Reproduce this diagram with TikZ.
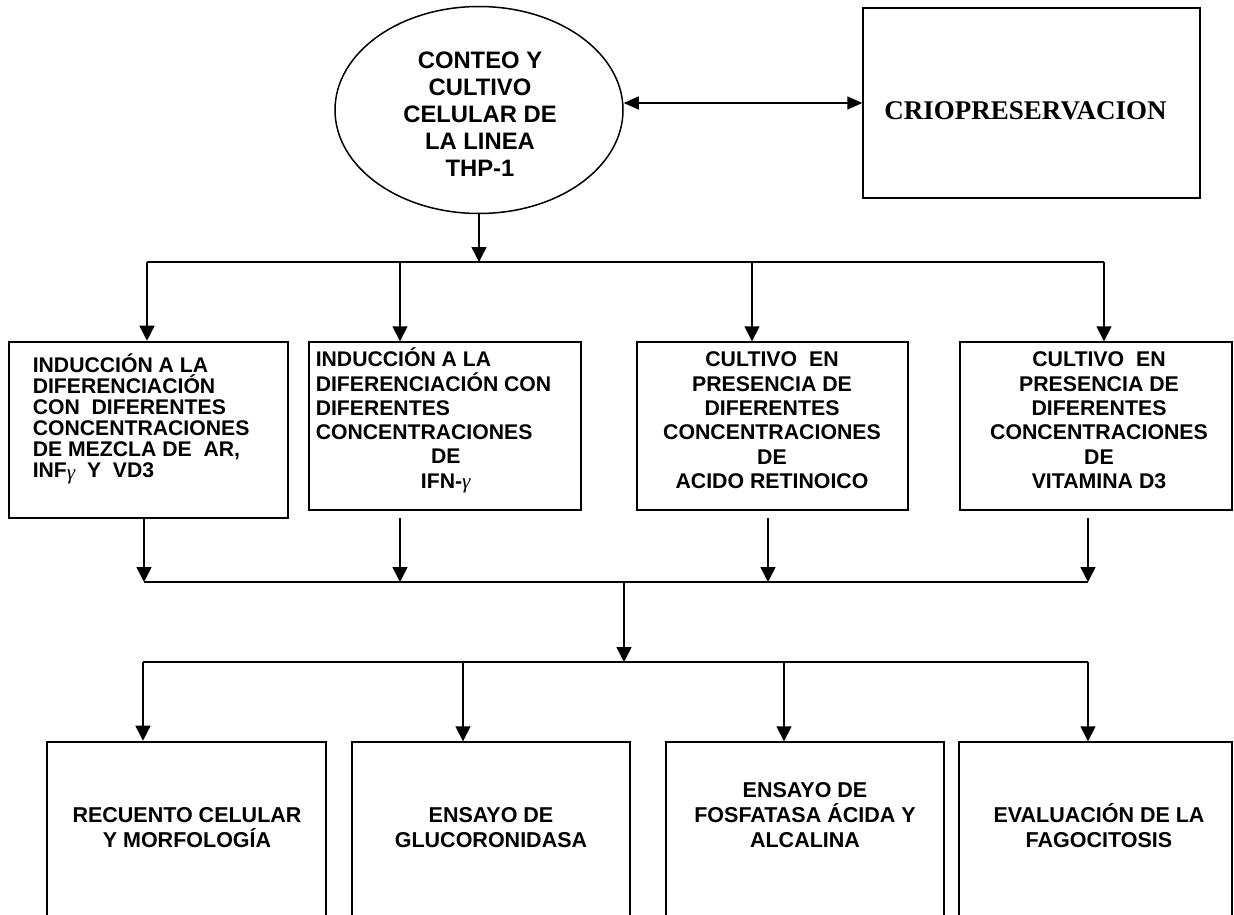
\documentclass[tikz,border=0pt]{standalone}
\usepackage{fontspec}
\setmainfont{Liberation Sans}
\newfontfamily\serifb{Liberation Serif}
\newfontfamily\gfont{Liberation Serif}
\usetikzlibrary{arrows.meta,shapes.geometric}
\newcommand{\gam}{{\gfont\itshape\mdseries γ}}
\begin{document}
\begin{tikzpicture}[x=1pt,y=-1pt,line width=1.5pt,
  arr/.style={-{Triangle[length=15pt,width=15pt]}},
  dbl/.style={{Triangle[length=15pt,width=13pt]}-{Triangle[length=15pt,width=13pt]}},
  boxst/.style={draw,rectangle,inner sep=0pt,line width=1.4pt},
  heavybox/.style={draw,rectangle,inner sep=0pt,line width=2.6pt},
  txt/.style={inner sep=0pt,font=\bfseries\fontsize{21.3}{24.4}\selectfont,align=center,anchor=north},
  lowtxt/.style={inner sep=0pt,font=\bfseries\fontsize{21.5}{25}\selectfont,align=center,anchor=north},
]
\useasboundingbox (0,0) rectangle (1234,915);
\clip (0,0) rectangle (1234,915);
\lineskiplimit=-100pt

% top row
\node[draw,ellipse,inner sep=0pt,minimum width=288pt,minimum height=207pt] (ell) at (479,110) {};
\node[inner sep=0pt,font=\bfseries\fontsize{23.8}{27}\selectfont,align=center,anchor=north] (ellt) at (480,47)
  {\rule{0pt}{21pt}CONTEO Y\\CULTIVO\\CELULAR DE\\LA LINEA\\THP-1};
\node[boxst,minimum width=337pt,minimum height=190pt] (crio) at (1031.5,103) {};
\node[inner sep=0pt,anchor=base,font=\serifb\bfseries\fontsize{27}{30}\selectfont] (criot) at (1025.5,120) {CRIOPRESERVACION};
\draw[dbl] (ell.east |- crio.west) -- (crio.west);

% middle row boxes
\node[heavybox,minimum width=279pt,minimum height=176pt] (b1) at (148.5,430) {};
\node[boxst,minimum width=272pt,minimum height=168pt] (b2) at (445,426) {};
\node[boxst,minimum width=271pt,minimum height=168pt] (b3) at (772.5,426) {};
\node[boxst,minimum width=272pt,minimum height=168pt] (b4) at (1096,426) {};

\node[inner sep=0pt,font=\bfseries\fontsize{21.2}{21}\selectfont,align=left,anchor=north west] (b1t) at (32,352)
  {\rule{0pt}{20pt}INDUCCIÓN A LA\\DIFERENCIACIÓN\\CON~ DIFERENTES\\CONCENTRACIONES\\DE MEZCLA DE~ AR,\\INF\raisebox{-2pt}{\gam}~ Y~ VD3};
\node[inner sep=0pt,font=\bfseries\fontsize{21.2}{24.3}\selectfont,align=left,anchor=north west] (b2t) at (315,346)
  {\rule{0pt}{20pt}INDUCCIÓN A LA\\DIFERENCIACIÓN CON\\DIFERENTES\\CONCENTRACIONES\\\makebox[260pt]{DE}\\\makebox[260pt]{IFN-\gam}};
\node[txt] (b3t) at (772,346)
  {\rule{0pt}{20pt}CULTIVO~ EN\\PRESENCIA DE\\DIFERENTES\\CONCENTRACIONES\\DE\\ACIDO RETINOICO};
\node[txt] (b4t) at (1099,346)
  {\rule{0pt}{20pt}CULTIVO~ EN\\PRESENCIA DE\\DIFERENTES\\CONCENTRACIONES\\DE\\VITAMINA D3};

% bottom row boxes
\node[heavybox,minimum width=279pt,minimum height=193pt] (c1) at (186.5,838.5) {};
\node[boxst,minimum width=278pt,minimum height=193pt] (c2) at (491,838.5) {};
\node[boxst,minimum width=278pt,minimum height=193pt] (c3) at (805,838.5) {};
\node[boxst,minimum width=273pt,minimum height=193pt] (c4) at (1095.5,838.5) {};

\node[lowtxt] (c1t) at (187,802) {\rule{0pt}{20pt}RECUENTO CELULAR\\Y MORFOLOGÍA};
\node[lowtxt] (c2t) at (491,802) {\rule{0pt}{20pt}ENSAYO DE\\GLUCORONIDASA};
\node[lowtxt] (c3t) at (805,777) {\rule{0pt}{20pt}ENSAYO DE\\FOSFATASA ÁCIDA Y\\ALCALINA};
\node[lowtxt] (c4t) at (1099,802) {\rule{0pt}{20pt}EVALUACIÓN DE LA\\FAGOCITOSIS};

% coordinates
\coordinate (t0) at (479,262);
\coordinate (t1) at (147,262);
\coordinate (t2) at (400,262);
\coordinate (t3) at (752,262);
\coordinate (t4) at (1104,262);
\coordinate (s2) at (400,518);
\coordinate (s3) at (768,518);
\coordinate (s4) at (1088,518);
\coordinate (m1) at (144,582);
\coordinate (m2) at (400,582);
\coordinate (m3) at (768,582);
\coordinate (m4) at (1088,582);
\coordinate (m0) at (624,582);
\coordinate (n0) at (624,662);
\coordinate (n1) at (143,662);
\coordinate (n2) at (463,662);
\coordinate (n3) at (784,662);
\coordinate (n4) at (1088,662);

% connectors
\draw[arr] (ell.south) -- (t0);
\draw (t1) -- (t4);
\draw[arr] (t1) -- (t1 |- b1.north);
\draw[arr] (t2) -- (t2 |- b2.north);
\draw[arr] (t3) -- (t3 |- b3.north);
\draw[arr] (t4) -- (t4 |- b4.north);

\draw[arr] (m1 |- b1.south) -- (m1);
\draw[arr] (s2) -- (m2);
\draw[arr] (s3) -- (m3);
\draw[arr] (s4) -- (m4);
\draw (m1) -- (m4);
\draw[arr] (m0) -- (n0);

\draw (n1) -- (n4);
\draw[arr] (n1) -- (n1 |- c1.north);
\draw[arr] (n2) -- (n2 |- c2.north);
\draw[arr] (n3) -- (n3 |- c3.north);
\draw[arr] (n4) -- (n4 |- c4.north);
\end{tikzpicture}
\end{document}
